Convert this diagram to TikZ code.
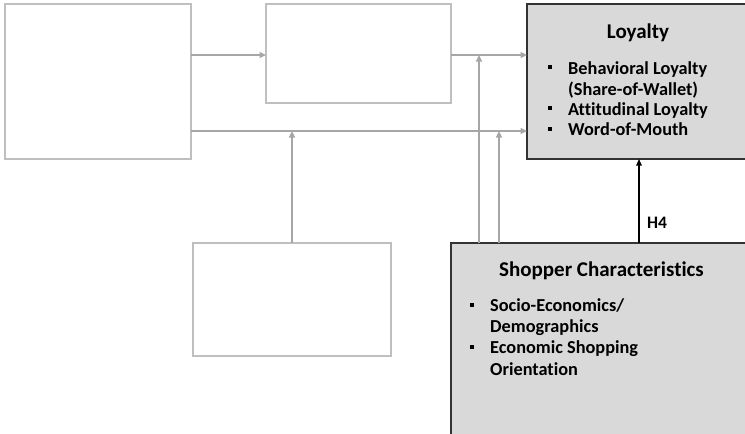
\documentclass[tikz,border=0pt]{standalone}
\usepackage{fontspec}
\setmainfont{Carlito}[Ligatures=NoCommon]
\usetikzlibrary{arrows.meta}
\definecolor{boxgray}{HTML}{D9D9D9}
\definecolor{linegray}{HTML}{A6A6A6}
\definecolor{edgegray}{HTML}{BFBFBF}
\tikzset{
  x=1pt, y=-1pt,
  whitebox/.style={draw=edgegray, line width=1.4pt, fill=white},
  graybox/.style={draw=black!80, line width=1.4pt, fill=boxgray},
  garrow/.style={draw=linegray, line width=1.3pt, -{Triangle[length=6.5pt,width=6pt]}},
  barrow/.style={draw=black, line width=1.3pt, -{Triangle[length=6.5pt,width=5.5pt]}},
  bul/.style={fill=black, inner sep=0pt, minimum size=4.2pt},
  ttl/.style={font=\bfseries\fontsize{21}{24}\selectfont, anchor=base, inner sep=0pt},
  itm/.style={font=\bfseries\fontsize{18.3}{22}\selectfont, anchor=base west, inner sep=0pt},
}
\begin{document}
\begin{tikzpicture}
\useasboundingbox (0,0) rectangle (745,434);
% boxes
\path[whitebox] (5,4) rectangle (191,159);
\path[whitebox] (266,4) rectangle (451,103);
\path[whitebox] (193,243) rectangle (391,356);
\path[graybox] (527,4) rectangle (750,159);
\path[graybox] (451,243) rectangle (750,440);
\node[minimum width=186pt, minimum height=155pt, inner sep=0pt] (A) at (98,81.5) {};
\node[minimum width=185pt, minimum height=99pt, inner sep=0pt] (B) at (358.5,53.5) {};
\node[minimum width=198pt, minimum height=113pt, inner sep=0pt] (C) at (292,299.5) {};
\node[minimum width=218pt, minimum height=155pt, inner sep=0pt] (L) at (636,81.5) {};
\node[minimum width=294pt, minimum height=191pt, inner sep=0pt] (S) at (598,338.5) {};
% coordinates
\coordinate (aR1) at (191,55);
\coordinate (bL) at (266,55);
\coordinate (bR) at (451,55);
\coordinate (lL1) at (527,55);
\coordinate (aR2) at (191,131);
\coordinate (lL2) at (527,131);
\coordinate (cT) at (292,243);
\coordinate (j1) at (292,131);
\coordinate (s1) at (479,243);
\coordinate (t1) at (479,55);
\coordinate (s2) at (499,243);
\coordinate (t2) at (499,131);
\coordinate (sT) at (639,243);
\coordinate (lB) at (639,159);
% connectors
\draw[garrow] (aR1) -- (bL);
\draw[garrow] (bR) -- (lL1);
\draw[garrow] (aR2) -- (lL2);
\draw[garrow] (cT) -- (j1);
\draw[garrow] (s1) -- (t1);
\draw[garrow] (s2) -- (t2);
\draw[barrow] (sT) -- (lB);
\node[font=\bfseries\fontsize{17.5}{20}\selectfont, anchor=base west, inner sep=0pt] (h4) at (647,228.5) {H4};
% Loyalty text
\node[ttl] (lt) at (638,38.3) {Loyalty};
\node[itm] (l1) at (568,74.3) {Behavioral Loyalty};
\node[itm] (l2) at (568,95) {(Share-of-Wallet)};
\node[itm] (l3) at (568,115.5) {Attitudinal Loyalty};
\node[itm] (l4) at (568,135.7) {Word-of-Mouth};
\node[bul] (lb1) at (550,66.7) {};
\node[bul] (lb2) at (550,108) {};
\node[bul] (lb3) at (550,129) {};
% Shopper text
\node[ttl] (st) at (601.5,276) {Shopper Characteristics};
\node[itm] (s1t) at (490,311.5) {Socio-Economics/};
\node[itm] (s2t) at (490,332.5) {Demographics};
\node[itm] (s3t) at (490,353.5) {Economic Shopping};
\node[itm] (s4t) at (490,375) {Orientation};
\node[bul] (sb1) at (472,305) {};
\node[bul] (sb2) at (472,347) {};
\end{tikzpicture}
\end{document}
